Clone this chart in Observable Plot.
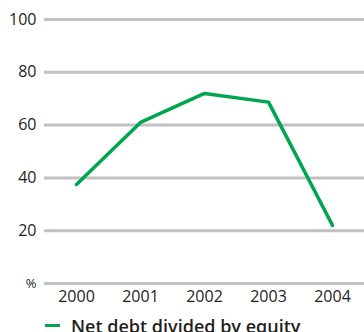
<!DOCTYPE html>
<html>
<head>
<meta charset="utf-8">
<script src="https://cdn.jsdelivr.net/npm/d3@7"></script>
<script src="https://cdn.jsdelivr.net/npm/@observablehq/plot@0.6"></script>
<style>
  html, body { margin: 0; padding: 0; background: #fff; }
  body { width: 364px; height: 332px; overflow: hidden; font-family: "Open Sans", sans-serif; }
  #legend { position: relative; height: 24px; font-size: 18px; font-weight: 600; color: #231f20; white-space: nowrap; }
  #legend .sw { position: absolute; left: 45px; top: 16px; width: 15px; height: 3px; background: #00a64f; }
  #legend .lb { position: absolute; left: 71px; top: 6px; line-height: 1.36; }
</style>
</head>
<body>
<div id="chart"></div>
<div id="legend"><span class="sw"></span><span class="lb">Net debt divided by equity</span></div>
<script>
const years = [2000, 2001, 2002, 2003, 2004];
const netDebtToEquity = [37.5, 61, 72, 68.7, 22];
const yTicks = [20, 40, 60, 80, 100];
const seriesName = "Net debt divided by equity";

const data = years.map((y, i) => ({year: y, value: netDebtToEquity[i]}));

const chart = Plot.plot({
  width: 364,
  height: 308,
  marginLeft: 44,
  marginRight: 0,
  marginTop: 19,
  marginBottom: 25,
  style: {fontFamily: "Open Sans, sans-serif", color: "#231f20", background: "#fff"},
  x: {domain: [1999.5, 2004.5]},
  y: {domain: [0, 100]},
  marks: [
    Plot.ruleY([0, ...yTicks], {stroke: "#c1c1c5", strokeWidth: 3}),
    Plot.axisY({ticks: yTicks, tickSize: 0, tickPadding: 8, fontSize: 16, label: null, tickFormat: d => String(d)}),
    Plot.axisY({ticks: [0], tickSize: 0, tickPadding: 8, fontSize: 13, label: null, tickFormat: () => "%"}),
    Plot.axisX({ticks: years, tickSize: 0, tickPadding: 7, fontSize: 16, label: null, tickFormat: d => String(d)}),
    Plot.line(data, {x: "year", y: "value", stroke: "#00a64f", strokeWidth: 3.5})
  ]
});
document.getElementById("chart").appendChild(chart);
</script>
</body>
</html>
